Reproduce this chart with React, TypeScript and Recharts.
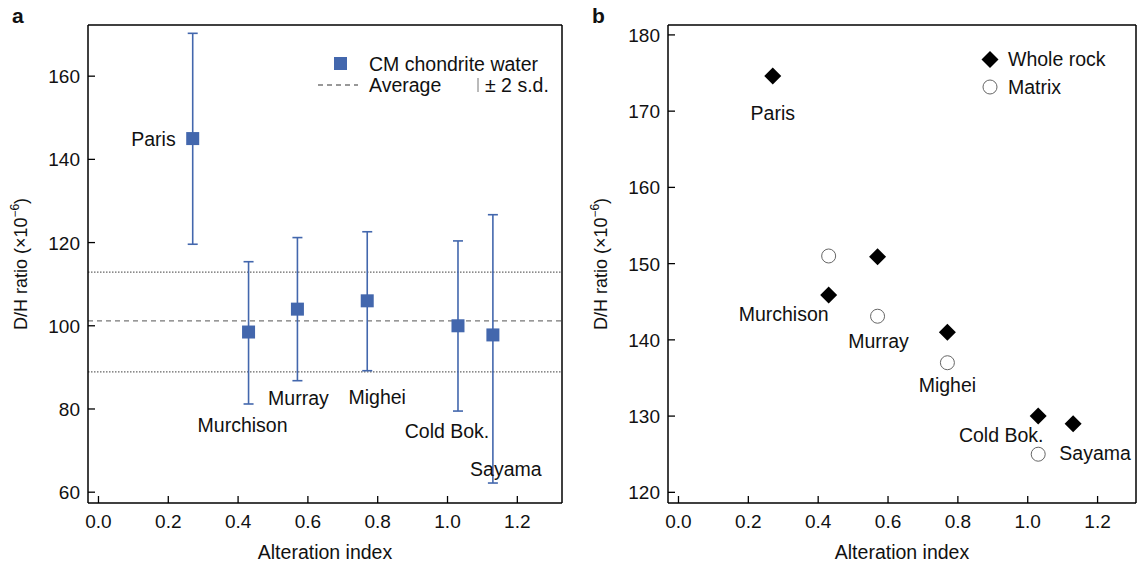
import React from 'react';
import { ScatterChart, Scatter, XAxis, YAxis, ErrorBar, ReferenceLine, Legend } from 'recharts';

const meteorites = ['Paris', 'Murchison', 'Murray', 'Mighei', 'Cold Bok.', 'Sayama'];
const alteration = [0.27, 0.43, 0.57, 0.77, 1.03, 1.13];

// panel a: bulk CM chondrite water, D/H (x10^-6) with ±2 s.d. bounds
const waterDH = [145, 98.5, 104, 106, 100, 97.8];
const waterHigh = [170.3, 115.4, 121.2, 122.6, 120.4, 126.7];
const waterLow = [119.6, 81.2, 86.8, 89.2, 79.5, 62.2];
const average = 101.2;
const sdHigh = 112.9;
const sdLow = 88.9;

// panel b
const wholeRockDH = [174.6, 145.9, 150.9, 141, 130, 129];
const matrixNames = ['Murchison', 'Murray', 'Mighei', 'Cold Bok.'];
const matrixX = [0.43, 0.57, 0.77, 1.03];
const matrixDH = [151, 143.1, 137, 125];

const xTicks = [0, 0.2, 0.4, 0.6, 0.8, 1.0, 1.2];
const yTicksA = [60, 80, 100, 120, 140, 160];
const yTicksB = [120, 130, 140, 150, 160, 170, 180];

const xDomainA = [-0.03, 1.328];
const yDomainA = [57.4, 172.3];
const xDomainB = [-0.03, 1.31];
const yDomainB = [118.6, 181.3];

const dataA = meteorites.map((name, i) => ({
  name,
  x: alteration[i],
  y: waterDH[i],
  err: [waterDH[i] - waterLow[i], waterHigh[i] - waterDH[i]],
}));
const dataWR = meteorites.map((name, i) => ({ name, x: alteration[i], y: wholeRockDH[i] }));
const dataMx = matrixNames.map((name, i) => ({ name, x: matrixX[i], y: matrixDH[i] }));

// label placement relative to the marker (px)
const labelA: Record<string, [number, number, string]> = {
  Paris: [-17, 0, 'end'],
  Murchison: [-6, 93, 'middle'],
  Murray: [1, 89, 'middle'],
  Mighei: [10, 96, 'middle'],
  'Cold Bok.': [-11, 105, 'middle'],
  Sayama: [13, 134, 'middle'],
};
const labelB: Record<string, [number, number, string]> = {
  Paris: [0, 37, 'middle'],
  Murchison: [-45, 19, 'middle'],
  Murray: [1, 84, 'middle'],
  Mighei: [0, 53, 'middle'],
  'Cold Bok.': [-37, 19, 'middle'],
  Sayama: [22, 29, 'middle'],
};

const FONT = '"Liberation Sans", Arial, sans-serif';
const BLUE = '#4367ad';
const FS = 19.5;
const TFS = 19;

const XTick = (p: any) => (
  <g>
    <line x1={p.x} x2={p.x} y1={p.y} y2={p.y - 7} stroke="#000" strokeWidth={1.3} />
    <text x={p.x} y={p.y + 25} textAnchor="middle" fontSize={TFS} fontFamily={FONT} fill="#111">
      {p.payload.value.toFixed(1)}
    </text>
  </g>
);

const YTick = (p: any) => (
  <g>
    <line x1={p.x} x2={p.x + 7} y1={p.y} y2={p.y} stroke="#000" strokeWidth={1.3} />
    <text x={p.x - 8} y={p.y + 7} textAnchor="end" fontSize={TFS} fontFamily={FONT} fill="#111">
      {p.payload.value}
    </text>
  </g>
);

const YTitle = (p: any) => {
  const vb = p.viewBox || { x: 0, y: 0, height: 0 };
  const cx = 27;
  const cy = vb.y + vb.height / 2;
  return (
    <text
      x={cx}
      y={cy}
      transform={`rotate(-90 ${cx} ${cy})`}
      textAnchor="middle"
      fontSize={18}
      fontFamily={FONT}
      fill="#111"
    >
      D/H ratio (×10
      <tspan fontSize={12} dy={-8}>−6</tspan>
      <tspan dy={8}>)</tspan>
    </text>
  );
};

const XTitle = (p: any) => {
  const vb = p.viewBox || { x: 0, y: 0, width: 0 };
  return (
    <text x={vb.x + vb.width / 2} y={vb.y + 56} textAnchor="middle" fontSize={FS} fontFamily={FONT} fill="#111">
      Alteration index
    </text>
  );
};

const PointLabel = ({ cx, cy, name, table }: any) => {
  const [dx, dy, anchor] = table[name];
  return (
    <text x={cx + dx} y={cy + dy + 7} textAnchor={anchor} fontSize={FS} fontFamily={FONT} fill="#111">
      {name}
    </text>
  );
};

const SquareShape = (p: any) => (
  <g>
    <rect x={p.cx - 6.5} y={p.cy - 6.5} width={13} height={13} fill={BLUE} />
    <PointLabel cx={p.cx} cy={p.cy} name={p.payload.name} table={labelA} />
  </g>
);

const DiamondShape = (p: any) => (
  <g>
    <polygon
      points={`${p.cx},${p.cy - 8.5} ${p.cx + 8.5},${p.cy} ${p.cx},${p.cy + 8.5} ${p.cx - 8.5},${p.cy}`}
      fill="#000"
    />
    <PointLabel cx={p.cx} cy={p.cy} name={p.payload.name} table={labelB} />
  </g>
);

const CircleShape = (p: any) => <circle cx={p.cx} cy={p.cy} r={7} fill="#fff" stroke="#666" strokeWidth={1} />;

const LegendA = () => (
  <svg width={260} height={60} style={{ overflow: 'visible' }}>
    <rect x={16} y={6} width={13} height={13} fill={BLUE} />
    <text x={51} y={20} fontSize={FS} fontFamily={FONT} fill="#111">CM chondrite water</text>
    <line x1={0} x2={40} y1={34} y2={34} stroke="#777" strokeWidth={1.3} strokeDasharray="5 4" />
    <text x={51} y={41} fontSize={FS} fontFamily={FONT} fill="#111">Average</text>
    <line x1={160} x2={160} y1={27} y2={41} stroke="#777" strokeWidth={1} />
    <text x={167} y={41} fontSize={FS} fontFamily={FONT} fill="#111">± 2 s.d.</text>
  </svg>
);

const LegendB = () => (
  <svg width={150} height={60} style={{ overflow: 'visible' }}>
    <polygon points="10,0 18.5,8.5 10,17 1.5,8.5" fill="#000" />
    <text x={28} y={15} fontSize={FS} fontFamily={FONT} fill="#111">Whole rock</text>
    <circle cx={10} cy={36} r={7} fill="#fff" stroke="#666" strokeWidth={1} />
    <text x={28} y={43} fontSize={FS} fontFamily={FONT} fill="#111">Matrix</text>
  </svg>
);

const axisLine = { stroke: '#000', strokeWidth: 1.5 };

export default function App() {
  return (
    <div style={{ position: 'absolute', left: 0, top: 0, width: 1137, height: 564, background: '#fff', fontFamily: FONT }}>
      <div style={{ position: 'absolute', left: 12, top: 4, fontSize: 21, fontWeight: 'bold', color: '#111' }}>a</div>
      <div style={{ position: 'absolute', left: 592, top: 4, fontSize: 21, fontWeight: 'bold', color: '#111' }}>b</div>

      <div style={{ position: 'absolute', left: 0, top: 0 }}>
        <ScatterChart width={580} height={564} margin={{ top: 25, right: 18, bottom: 0, left: 0 }}>
          <XAxis
            type="number"
            dataKey="x"
            domain={xDomainA}
            ticks={xTicks}
            height={61}
            tickSize={0}
            tickMargin={0}
            tick={<XTick />}
            axisLine={axisLine}
            label={{ content: <XTitle /> }}
            allowDataOverflow
          />
          <YAxis
            type="number"
            dataKey="y"
            domain={yDomainA}
            ticks={yTicksA}
            width={88}
            tickSize={0}
            tickMargin={0}
            tick={<YTick />}
            axisLine={axisLine}
            label={{ content: <YTitle /> }}
            allowDataOverflow
          />
          <ReferenceLine y={yDomainA[1]} stroke="#000" strokeWidth={1.5} />
          <ReferenceLine x={xDomainA[1]} stroke="#000" strokeWidth={1.5} />
          <ReferenceLine y={sdHigh} stroke="#666" strokeWidth={1.2} strokeDasharray="1.5 1.5" />
          <ReferenceLine y={average} stroke="#777" strokeWidth={1.3} strokeDasharray="5 4" />
          <ReferenceLine y={sdLow} stroke="#666" strokeWidth={1.2} strokeDasharray="1.5 1.5" />
          <Scatter data={dataA} shape={<SquareShape />} isAnimationActive={false}>
            <ErrorBar dataKey="err" direction="y" width={5} stroke={BLUE} strokeWidth={1.6} isAnimationActive={false} />
          </Scatter>
          <Legend
            layout="vertical"
            align="center"
            verticalAlign="middle"
            content={<LegendA />}
            wrapperStyle={{ left: 318, top: 51, width: 260, height: 60 }}
          />
        </ScatterChart>
      </div>

      <div style={{ position: 'absolute', left: 580, top: 0 }}>
        <ScatterChart width={557} height={564} margin={{ top: 25, right: 1, bottom: 0, left: 0 }}>
          <XAxis
            type="number"
            dataKey="x"
            domain={xDomainB}
            ticks={xTicks}
            height={61}
            tickSize={0}
            tickMargin={0}
            tick={<XTick />}
            axisLine={axisLine}
            label={{ content: <XTitle /> }}
            allowDataOverflow
          />
          <YAxis
            type="number"
            dataKey="y"
            domain={yDomainB}
            ticks={yTicksB}
            width={88}
            tickSize={0}
            tickMargin={0}
            tick={<YTick />}
            axisLine={axisLine}
            label={{ content: <YTitle /> }}
            allowDataOverflow
          />
          <ReferenceLine y={yDomainB[1]} stroke="#000" strokeWidth={1.5} />
          <ReferenceLine x={xDomainB[1]} stroke="#000" strokeWidth={1.5} />
          <Scatter data={dataMx} shape={<CircleShape />} isAnimationActive={false} />
          <Scatter data={dataWR} shape={<DiamondShape />} isAnimationActive={false} />
          <Legend
            layout="vertical"
            align="center"
            verticalAlign="middle"
            content={<LegendB />}
            wrapperStyle={{ left: 400, top: 51, width: 150, height: 60 }}
          />
        </ScatterChart>
      </div>
    </div>
  );
}
